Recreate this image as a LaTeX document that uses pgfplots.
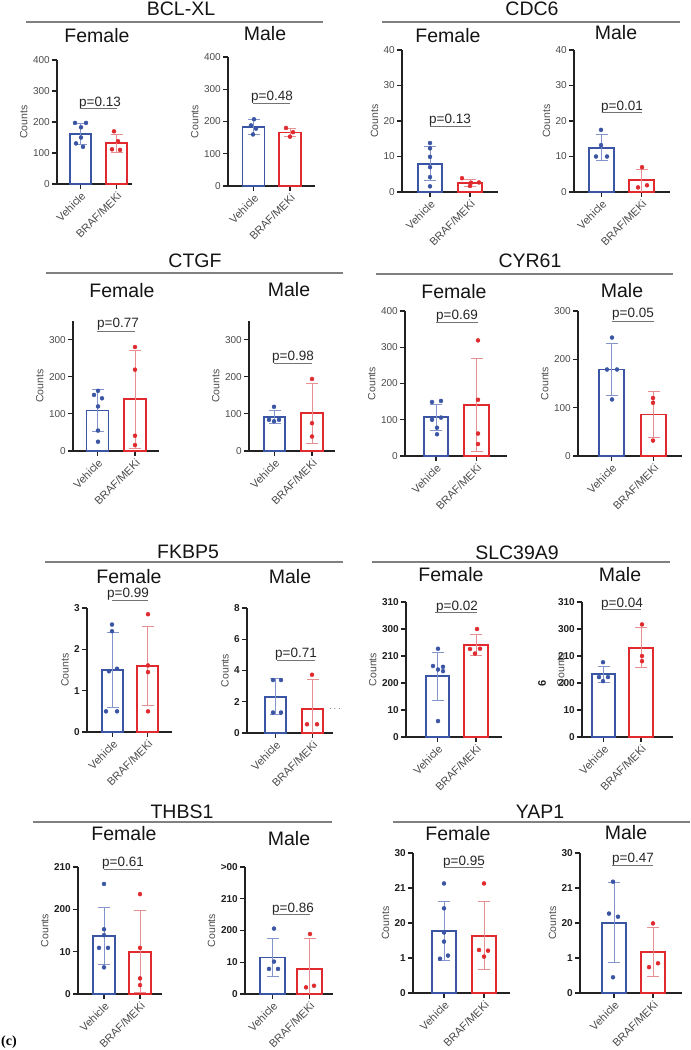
\documentclass[border=0pt]{standalone}
\usepackage{fontspec}
\setmainfont{Liberation Sans}
\newfontfamily\serifb{Liberation Serif}
\usepackage{pgfplots}
\pgfplotsset{compat=1.18}
\definecolor{bc}{HTML}{3A55A4}
\definecolor{rc}{HTML}{E02A2E}
\definecolor{bcl}{HTML}{8495CB}
\definecolor{rcl}{HTML}{E88F91}
\definecolor{axc}{HTML}{222222}
\definecolor{tkc}{HTML}{4A4A4A}
\newcommand\tfont{\fontsize{10}{11}\selectfont}
\newcommand\xfont{\fontsize{11}{12}\selectfont}
\newcommand\cfont{\fontsize{10.5}{12}\selectfont}
\newcommand\pfont{\fontsize{13.5}{14}\selectfont}
\newcommand\hfont{\fontsize{19.5}{20}\selectfont}
\pgfplotsset{
 prism/.style={scale only axis, clip=false, anchor=south west,
   axis x line*=bottom, axis y line*=left,
   axis line style={line width=1.4pt, draw=axc, -},
   every tick/.style={line width=1.2pt, draw=axc},
   tick align=outside, major tick length=5pt,
   ymin=0, enlargelimits=false,
   /pgf/number format/assume math mode=true,
   xticklabels={Vehicle,BRAF/MEKi},
   xticklabel style={rotate=45, anchor=north east, font=\xfont, text=tkc, inner sep=1.5pt},
   yticklabel style={font=\tfont, text=tkc, inner sep=2pt},
   ylabel={Counts}, ylabel style={font=\cfont, text=tkc},
 },
 boldt/.style={yticklabel style={font=\tfont\bfseries, text=black!88}},
 barB/.style={ybar, bar shift=0pt, draw=bc, fill=white, line width=1.8pt},
 barR/.style={ybar, bar shift=0pt, draw=rc, fill=white, line width=1.8pt},
 ptB/.style={only marks, mark=*, mark size=2pt, mark options={draw=bc, fill=bc}},
 ptR/.style={only marks, mark=*, mark size=2pt, mark options={draw=rc, fill=rc}},
}
% error bar: x, low, high, colour  (line with caps at both ends)
\newcommand\eb[4]{\addplot[draw=#4, line width=0.9pt, mark=-, mark size=6pt,
  mark options={draw=#4, line width=0.9pt, solid}] coordinates {(#1,#2) (#1,#3)};}
% error bar with cap only at the top (lower end hidden below the axis)
\newcommand\ebt[4]{\addplot[draw=#4, line width=0.9pt, mark=-, mark size=6pt, mark indices={2},
  mark options={draw=#4, line width=0.9pt, solid}] coordinates {(#1,#2) (#1,#3)};}
\newcommand\pv[6]{\node[anchor=base,font=\pfont,text=black!85,inner sep=0pt] at (#1pt,-#2pt) {p=#3};
  \draw[color=black!55,line width=1pt] (#4pt,-#6pt) -- (#5pt,-#6pt);}
\newcommand\gt[6]{\node[anchor=base,font=\hfont,text=black!92,inner sep=0pt] at (#1pt,-#2pt) {#3};
  \draw[color=black!50,line width=1.3pt] (#4pt,-#6pt) -- (#5pt,-#6pt);}
\newcommand\sx[3]{\node[anchor=base,font=\hfont,text=black!92,inner sep=0pt] at (#1pt,-#2pt) {#3};}
\begin{document}
\begin{tikzpicture}
\useasboundingbox (0pt,0pt) rectangle (691pt,-1050pt);

% ===== Row 1 =====
\begin{axis}[prism, at={(57pt,-184pt)}, width=75pt, height=124pt, xmin=57, xmax=132, ymax=400,
  xtick={80.5,116.5}, ytick={0,100,200,300,400}, yticklabels={0,100,200,300,400}, bar width=21.5pt]
\addplot[barB] coordinates {(80.5,162)};
\addplot[barR] coordinates {(116.5,131)};
\eb{80.5}{128}{196}{bcl}
\eb{116.5}{102}{160}{rcl}
\addplot[ptB] coordinates {(75,197) (86,197) (81,183) (81,150) (76,131) (83,120)};
\addplot[ptR] coordinates {(114,170) (118,138) (112,112) (120,110)};
\end{axis}

\begin{axis}[prism, at={(228pt,-186pt)}, width=87pt, height=129pt, xmin=228, xmax=315, ymax=400,
  xtick={253.5,290}, ytick={0,100,200,300,400}, yticklabels={0,100,200,300,400}, bar width=22pt]
\addplot[barB] coordinates {(253.5,183)};
\addplot[barR] coordinates {(290,166)};
\eb{253.5}{160}{206}{bcl}
\eb{290}{153}{179}{rcl}
\addplot[ptB] coordinates {(254,207) (251,188) (256,178) (253,160)};
\addplot[ptR] coordinates {(286,180) (293,167) (290,153)};
\end{axis}

\begin{axis}[prism, at={(402pt,-192pt)}, width=96pt, height=142pt, xmin=402, xmax=498, ymax=40,
  xtick={430,470}, ytick={0,10,20,30,40}, yticklabels={0,10,20,30,40}, bar width=24.5pt]
\addplot[barB] coordinates {(430,8.0)};
\addplot[barR] coordinates {(470,2.55)};
\eb{430}{3.15}{12.85}{bcl}
\eb{470}{1.55}{3.55}{rcl}
\addplot[ptB] coordinates {(430,13.8) (430,12.3) (430,9.9) (430,7.0) (430,4.2) (430,1.6)};
\addplot[ptR] coordinates {(462,3.9) (471,2.6) (479,2.7) (470,1.7)};
\end{axis}

\begin{axis}[prism, at={(574pt,-192pt)}, width=96pt, height=142pt, xmin=574, xmax=670, ymax=40,
  xtick={601.5,641.5}, ytick={0,10,20,30,40}, yticklabels={0,10,20,30,40}, bar width=24.5pt]
\addplot[barB] coordinates {(601.5,12.5)};
\addplot[barR] coordinates {(641.5,3.3)};
\eb{601.5}{8.9}{16.1}{bcl}
\ebt{641.5}{0}{6.4}{rcl}
\addplot[ptB] coordinates {(601,17.5) (601,13.2) (596,10.0) (607,10.0)};
\addplot[ptR] coordinates {(642,7.0) (638,1.3) (647,1.9)};
\end{axis}

% ===== Row 2 =====
\begin{axis}[prism, at={(73pt,-451pt)}, width=86pt, height=130pt, xmin=73, xmax=159, ymax=350,
  xtick={97.5,135}, ytick={0,100,200,300}, yticklabels={0,100,200,300}, bar width=22pt]
\addplot[barB] coordinates {(97.5,109)};
\addplot[barR] coordinates {(135,139)};
\eb{97.5}{52.5}{165.5}{bcl}
\eb{135}{8}{270}{rcl}
\addplot[ptB] coordinates {(94,151) (98,162) (102,142) (98,120) (98,55) (98,25)};
\addplot[ptR] coordinates {(135,280) (135,219) (135,41) (135,16)};
\end{axis}

\begin{axis}[prism, at={(249pt,-451pt)}, width=86pt, height=130pt, xmin=249, xmax=335, ymax=350,
  xtick={274.5,312}, ytick={0,100,200,300}, yticklabels={0,100,200,300}, bar width=21.5pt]
\addplot[barB] coordinates {(274.5,92)};
\addplot[barR] coordinates {(312,102)};
\eb{274.5}{74}{110}{bcl}
\eb{312}{21.5}{182.5}{rcl}
\addplot[ptB] coordinates {(274,119) (269,84) (279,84) (274,80)};
\addplot[ptR] coordinates {(312,194) (312,75) (312,39)};
\end{axis}

\begin{axis}[prism, at={(405pt,-456pt)}, width=102pt, height=145pt, xmin=405, xmax=507, ymax=400,
  xtick={436,476.5}, ytick={0,100,200,300,400}, yticklabels={0,100,200,300,400}, bar width=24.5pt]
\addplot[barB] coordinates {(436,107)};
\addplot[barR] coordinates {(476.5,141)};
\eb{436}{71}{143}{bcl}
\eb{476.5}{12.5}{269.5}{rcl}
\addplot[ptB] coordinates {(432,149) (441,152) (432,100) (441,106) (437,78) (437,60)};
\addplot[ptR] coordinates {(478,319) (478,155) (478,62) (478,33)};
\end{axis}

\begin{axis}[prism, at={(578pt,-456pt)}, width=104pt, height=145pt, xmin=578, xmax=682, ymax=300,
  xtick={611.5,653.5}, ytick={0,100,200,300}, yticklabels={0,100,200,300}, bar width=25pt]
\addplot[barB] coordinates {(611.5,179)};
\addplot[barR] coordinates {(653.5,86)};
\eb{611.5}{126}{232}{bcl}
\eb{653.5}{38}{134}{rcl}
\addplot[ptB] coordinates {(612,245) (607,179) (617,179) (612,117)};
\addplot[ptR] coordinates {(653,120) (653,110) (653,32)};
\end{axis}

% ===== Row 3 =====
\begin{axis}[prism, boldt, at={(87pt,-732pt)}, width=85pt, height=124pt, xmin=87, xmax=172, ymax=3,
  xtick={112.5,147.5}, ytick={0,1,2,3}, yticklabels={0,1,2,3}, bar width=21.5pt]
\addplot[barB] coordinates {(112.5,1.5)};
\addplot[barR] coordinates {(147.5,1.6)};
\eb{112.5}{0.59}{2.41}{bcl}
\eb{147.5}{0.64}{2.56}{rcl}
\addplot[ptB] coordinates {(112,2.6) (112,2.44) (109,1.47) (117,1.53) (106,0.5) (117,0.5)};
\addplot[ptR] coordinates {(148,2.85) (148,1.61) (148,1.45) (148,0.5)};
\end{axis}

\begin{axis}[prism, boldt, at={(247pt,-733pt)}, width=86pt, height=125pt, xmin=247, xmax=333, ymax=8,
  xtick={275.5,312.5}, ytick={0,2,4,6,8}, yticklabels={0,2,4,6,8}, bar width=21.5pt]
\addplot[barB] coordinates {(275.5,2.32)};
\addplot[barR] coordinates {(312.5,1.55)};
\eb{275.5}{1.17}{3.47}{bcl}
\ebt{312.5}{0}{3.45}{rcl}
\addplot[ptB] coordinates {(273,3.39) (281,3.39) (273,1.31) (281,1.31)};
\addplot[ptR] coordinates {(312,3.73) (307,0.56) (317,0.56)};
\end{axis}

\begin{axis}[prism, boldt, at={(406pt,-737pt)}, width=96pt, height=135pt, xmin=406, xmax=502, ymax=5,
  xtick={437.5,476}, ytick={0,1,2,3,4,5}, yticklabels={0,10,200,210,300,310}, bar width=23.5pt]
\addplot[barB] coordinates {(437.5,2.25)};
\addplot[barR] coordinates {(476,3.4)};
\eb{437.5}{1.35}{3.15}{bcl}
\eb{476}{3.01}{3.79}{rcl}
\addplot[ptB] coordinates {(438,3.27) (433,2.63) (443,2.60) (438,2.50) (443,2.44) (438,0.59)};
\addplot[ptR] coordinates {(477,4.0) (470,3.26) (480,3.27) (475,3.09)};
\end{axis}

\begin{axis}[prism, boldt, at={(582pt,-737pt)}, width=91pt, height=135pt, xmin=582, xmax=673, ymax=5,
  xtick={603.5,641}, ytick={0,1,2,3,4,5}, yticklabels={0,10,200,210,300,310}, bar width=23.5pt,
  ylabel shift=-12pt]
\addplot[barB] coordinates {(603.5,2.32)};
\addplot[barR] coordinates {(641,3.3)};
\eb{603.5}{2.01}{2.63}{bcl}
\eb{641}{2.56}{4.04}{rcl}
\addplot[ptB] coordinates {(603,2.77) (599,2.22) (608,2.22) (603,2.07)};
\addplot[ptR] coordinates {(642,4.17) (642,3.0) (642,2.81)};
\end{axis}

% ===== Row 4 =====
\begin{axis}[prism, boldt, at={(78pt,-994pt)}, width=84pt, height=127pt, xmin=78, xmax=162, ymax=3,
  xtick={104,140}, ytick={0,1,2,3}, yticklabels={0,10,200,210}, bar width=22.5pt]
\addplot[barB] coordinates {(104,1.37)};
\addplot[barR] coordinates {(140,1.0)};
\eb{104}{0.7}{2.04}{bcl}
\eb{140}{0.03}{1.98}{rcl}
\addplot[ptB] coordinates {(104,2.6) (104,1.53) (104,1.39) (99,1.09) (108,1.09) (104,0.63)};
\addplot[ptR] coordinates {(140,2.36) (140,1.09) (140,0.37) (140,0.21)};
\end{axis}

\begin{axis}[prism, boldt, at={(245pt,-994pt)}, width=88pt, height=127pt, xmin=245, xmax=333, ymax=4,
  xtick={272.5,309.5}, ytick={0,1,2,3,4}, yticklabels={0,10,200,210,>00}, bar width=25pt]
\addplot[barB] coordinates {(272.5,1.15)};
\addplot[barR] coordinates {(309.5,0.79)};
\eb{272.5}{0.55}{1.75}{bcl}
\ebt{309.5}{0}{1.76}{rcl}
\addplot[ptB] coordinates {(274,2.06) (274,1.02) (269,0.79) (278,0.79)};
\addplot[ptR] coordinates {(310,1.89) (306,0.21) (314,0.26)};
\end{axis}

\begin{axis}[prism, boldt, at={(413pt,-993pt)}, width=97pt, height=140pt, xmin=413, xmax=510, ymax=4,
  xtick={444,484}, ytick={0,1,2,3,4}, yticklabels={0,1,20,21,30}, bar width=24.5pt]
\addplot[barB] coordinates {(444,1.77)};
\addplot[barR] coordinates {(484,1.64)};
\eb{444}{0.93}{2.61}{bcl}
\eb{484}{0.66}{2.62}{rcl}
\addplot[ptB] coordinates {(444,3.13) (444,2.42) (444,1.73) (444,1.47) (448,1.07) (440,0.98)};
\addplot[ptR] coordinates {(484,3.13) (479,1.23) (488,1.21) (484,1.04)};
\end{axis}

\begin{axis}[prism, boldt, at={(580pt,-993pt)}, width=102pt, height=140pt, xmin=580, xmax=682, ymax=4,
  xtick={614,653}, ytick={0,1,2,3,4}, yticklabels={0,1,20,21,30}, bar width=24.5pt]
\addplot[barB] coordinates {(614,2.01)};
\addplot[barR] coordinates {(653,1.17)};
\eb{614}{0.87}{3.15}{bcl}
\eb{653}{0.47}{1.87}{rcl}
\addplot[ptB] coordinates {(613,3.18) (609,2.27) (618,2.18) (613,0.45)};
\addplot[ptR] coordinates {(653,1.99) (649,0.74) (658,0.85)};
\end{axis}

% ===== annotations =====
\gt{181}{15}{BCL-XL}{26}{323}{22}
\gt{532}{15}{CDC6}{382}{680}{22}
\sx{97}{42}{Female} \sx{265}{40}{Male} \sx{448}{42}{Female} \sx{616}{39}{Male}
\pv{100}{106}{0.13}{80}{117}{108}
\pv{272}{100}{0.48}{253}{290}{103}
\pv{450}{123}{0.13}{430}{471}{126}
\pv{622}{110}{0.01}{602}{642}{112}

\gt{195}{267}{CTGF}{46}{343}{273}
\gt{530}{267}{CYR61}{376}{673}{274}
\sx{122}{297}{Female} \sx{289}{296}{Male} \sx{454}{298}{Female} \sx{622}{297}{Male}
\pv{118}{327}{0.77}{97}{135}{331}
\pv{293}{360}{0.98}{274}{312}{363}
\pv{457}{319}{0.69}{436}{478}{322}
\pv{633}{317}{0.05}{612}{654}{321}

\gt{188}{558}{FKBP5}{45}{343}{562}
\gt{517}{559}{SLC39A9}{372}{670}{562}
\sx{129}{583}{Female} \sx{290}{583}{Male} \sx{451}{581}{Female} \sx{620}{581}{Male}
\pv{128}{597}{0.99}{112}{148}{600}
\pv{296}{657}{0.71}{277}{315}{660}
\pv{457}{610}{0.02}{435}{477}{612}
\pv{622}{607}{0.04}{602}{641}{609}

\gt{182}{818}{THBS1}{33}{332}{822}
\gt{540}{818}{YAP1}{393}{690}{822}
\sx{124}{840}{Female} \sx{289}{845}{Male} \sx{458}{840}{Female} \sx{626}{839}{Male}
\pv{123}{866}{0.61}{104}{140}{869}
\pv{293}{912}{0.86}{273}{310}{914}
\pv{464}{865}{0.95}{444}{483}{867}
\pv{633}{862}{0.47}{612}{653}{865}

\node[font=\fontsize{10}{10}\selectfont, text=black!60, inner sep=0pt] at (335pt,-709pt) {$\cdots$};
\node[rotate=90, font=\fontsize{11}{12}\selectfont\bfseries, text=black!88, inner sep=0pt] at (542pt,-683pt) {6};
\node[anchor=base west, font=\serifb\bfseries\fontsize{14}{14}\selectfont, inner sep=0pt] at (1pt,-1045pt) {(c)};
\end{tikzpicture}
\end{document}
